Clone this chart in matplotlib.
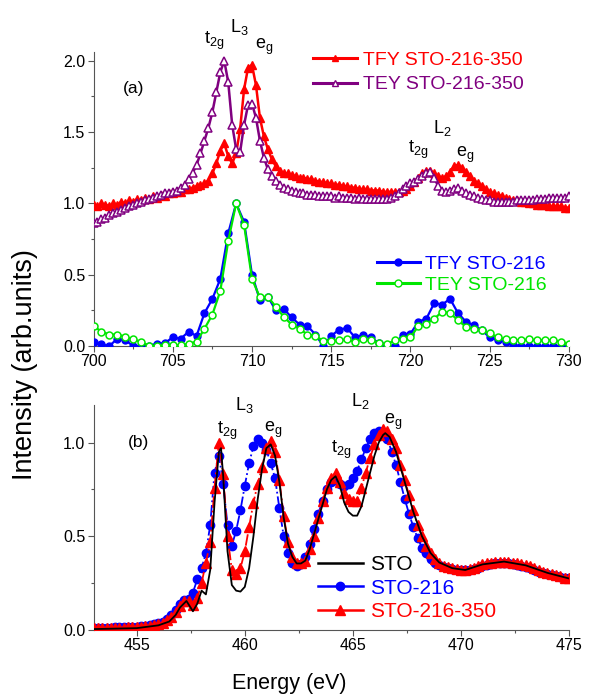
import numpy as np
import matplotlib
matplotlib.use("Agg")
import matplotlib.pyplot as plt
from matplotlib.ticker import MultipleLocator
from matplotlib.lines import Line2D

plt.rcParams['font.family'] = ['Liberation Sans', 'DejaVu Sans']
plt.rcParams['mathtext.fontset'] = 'custom'
plt.rcParams['mathtext.rm'] = 'Liberation Sans'
plt.rcParams['mathtext.it'] = 'Liberation Sans'

# ---------------- Panel (a): 700-730 eV ----------------
e_a_dense = np.arange(700.0, 730.001, 0.25)
tfy_216_350 = [
    0.99, 0.98, 1.00, 0.99, 0.98, 1.00, 0.99, 1.01, 1.00, 1.02,
    1.01, 1.03, 1.02, 1.04, 1.03, 1.05, 1.04, 1.06, 1.05, 1.07,
    1.07, 1.08, 1.08, 1.10, 1.10, 1.11, 1.12, 1.13, 1.14, 1.16,
    1.21, 1.28, 1.37, 1.42, 1.33, 1.28, 1.35, 1.52, 1.80, 1.95,
    1.97, 1.83, 1.60, 1.47, 1.38, 1.31, 1.26, 1.23, 1.21, 1.21,
    1.20, 1.19, 1.18, 1.18, 1.17, 1.17, 1.16, 1.15, 1.15, 1.14,
    1.14, 1.13, 1.13, 1.12, 1.12, 1.11, 1.11, 1.10, 1.10, 1.10,
    1.09, 1.09, 1.09, 1.08, 1.08, 1.08, 1.08, 1.08, 1.09, 1.10,
    1.12, 1.15, 1.18, 1.21, 1.23, 1.23, 1.21, 1.19, 1.18, 1.19,
    1.22, 1.26, 1.27, 1.25, 1.22, 1.19, 1.16, 1.14, 1.12, 1.10,
    1.08, 1.07, 1.06, 1.05, 1.04, 1.03, 1.02, 1.02, 1.01, 1.01,
    1.00, 1.00, 0.99, 0.99, 0.99, 0.98, 0.98, 0.98, 0.98, 0.97,
    0.97]
tey_216_350 = [
    0.86, 0.87, 0.89, 0.90, 0.92, 0.93, 0.94, 0.95, 0.97, 0.98,
    0.99, 1.00, 1.01, 1.02, 1.03, 1.04, 1.05, 1.06, 1.07, 1.07,
    1.08, 1.09, 1.11, 1.13, 1.17, 1.21, 1.27, 1.35, 1.44, 1.53,
    1.64, 1.78, 1.92, 2.00, 1.85, 1.55, 1.38, 1.36, 1.55, 1.69,
    1.70, 1.60, 1.44, 1.32, 1.24, 1.19, 1.16, 1.13, 1.11, 1.10,
    1.09, 1.08, 1.07, 1.07, 1.06, 1.06, 1.06, 1.05, 1.05, 1.05,
    1.05, 1.04, 1.05, 1.04, 1.04, 1.04, 1.03, 1.04, 1.03, 1.03,
    1.03, 1.03, 1.03, 1.03, 1.03, 1.04, 1.05, 1.07, 1.10, 1.12,
    1.14, 1.15, 1.17, 1.19, 1.21, 1.22, 1.18, 1.12, 1.09, 1.08,
    1.09, 1.10, 1.11, 1.09, 1.07, 1.06, 1.05, 1.04, 1.03, 1.02,
    1.02, 1.01, 1.01, 1.01, 1.01, 1.01, 1.01, 1.02, 1.02, 1.02,
    1.02, 1.02, 1.03, 1.03, 1.03, 1.04, 1.04, 1.04, 1.04, 1.04,
    1.05]

e_a_sparse = np.arange(700.0, 730.001, 0.5)
tfy_216 = [
    0.025, 0.01, 0.0, 0.05, 0.04, 0.0, 0.0, 0.0, 0.015, 0.02,
    0.06, 0.05, 0.10, 0.07, 0.23, 0.33, 0.47, 0.79, 1.00, 0.87,
    0.50, 0.32, 0.345, 0.25, 0.26, 0.20, 0.15, 0.14, 0.08, 0.0,
    0.07, 0.115, 0.125, 0.06, 0.075, 0.06, 0.02, 0.0, 0.0, 0.08,
    0.085, 0.17, 0.19, 0.30, 0.29, 0.33, 0.23, 0.17, 0.145, 0.11,
    0.06, 0.04, 0.03, 0.005, 0.0, 0.0, 0.0, 0.0, 0.0, 0.0,
    0.0]
tey_216 = [
    0.14, 0.10, 0.08, 0.08, 0.065, 0.045, 0.03, 0.0, 0.0, 0.005,
    0.005, 0.005, 0.015, 0.03, 0.12, 0.22, 0.385, 0.735, 1.00, 0.85,
    0.47, 0.34, 0.345, 0.275, 0.205, 0.15, 0.12, 0.08, 0.07, 0.035,
    0.035, 0.04, 0.045, 0.03, 0.045, 0.04, 0.02, 0.01, 0.04, 0.05,
    0.06, 0.14, 0.155, 0.19, 0.24, 0.23, 0.18, 0.134, 0.12, 0.11,
    0.09, 0.06, 0.045, 0.04, 0.04, 0.045, 0.04, 0.04, 0.04, 0.03,
    0.01]

# ---------------- Panel (b): 453-475 eV ----------------
e_b = np.arange(453.0, 475.001, 0.2)
sto_216_350 = [
    0.010, 0.010, 0.010, 0.011, 0.011, 0.012, 0.012, 0.013, 0.014, 0.015,
    0.016, 0.018, 0.020, 0.023, 0.027, 0.032, 0.040, 0.052, 0.070, 0.095,
    0.13, 0.155, 0.155, 0.135, 0.17, 0.25, 0.36, 0.47, 0.76, 1.00,
    0.83, 0.50, 0.32, 0.30, 0.33, 0.42, 0.55, 0.68, 0.78, 0.87,
    0.97, 1.01, 0.95, 0.80, 0.61, 0.47, 0.39, 0.355, 0.355, 0.37,
    0.43, 0.50, 0.60, 0.69, 0.76, 0.81, 0.84, 0.79, 0.73, 0.70,
    0.69, 0.69, 0.76, 0.84, 0.92, 0.99, 1.04, 1.07, 1.06, 1.02,
    0.97, 0.88, 0.80, 0.72, 0.64, 0.56, 0.50, 0.45, 0.41, 0.38,
    0.36, 0.34, 0.335, 0.33, 0.325, 0.32, 0.32, 0.325, 0.33, 0.34,
    0.35, 0.355, 0.36, 0.365, 0.365, 0.365, 0.365, 0.36, 0.355, 0.35,
    0.345, 0.34, 0.33, 0.32, 0.31, 0.305, 0.30, 0.295, 0.29, 0.28,
    0.275]
sto_216 = [
    0.012, 0.012, 0.012, 0.013, 0.013, 0.014, 0.014, 0.015, 0.016, 0.017,
    0.018, 0.020, 0.022, 0.026, 0.030, 0.036, 0.045, 0.058, 0.078, 0.105,
    0.14, 0.16, 0.165, 0.20, 0.27, 0.33, 0.41, 0.56, 0.84, 0.93,
    0.78, 0.56, 0.45, 0.53, 0.64, 0.77, 0.89, 0.98, 1.02, 1.00,
    0.96, 0.89, 0.81, 0.65, 0.50, 0.41, 0.36, 0.34, 0.35, 0.39,
    0.46, 0.54, 0.62, 0.69, 0.75, 0.79, 0.80, 0.78, 0.77, 0.78,
    0.81, 0.85, 0.91, 0.97, 1.02, 1.05, 1.06, 1.05, 1.02, 0.95,
    0.88, 0.79, 0.70, 0.62, 0.55, 0.49, 0.44, 0.41, 0.38, 0.36,
    0.345, 0.335, 0.33, 0.325, 0.32, 0.32, 0.32, 0.32, 0.325, 0.33,
    0.34, 0.345, 0.35, 0.355, 0.355, 0.355, 0.355, 0.35, 0.345, 0.34,
    0.335, 0.33, 0.32, 0.31, 0.305, 0.30, 0.295, 0.29, 0.285, 0.28,
    0.275]
e_sto = [453.0, 455.0, 456.0, 456.5, 456.8, 457.0, 457.3, 457.6, 457.8, 458.0,
         458.2, 458.4, 458.6, 458.8, 458.9, 459.0, 459.2, 459.4, 459.6, 459.8,
         460.0, 460.2, 460.4, 460.6, 460.8, 461.0, 461.2, 461.4, 461.6, 461.8,
         462.0, 462.2, 462.4, 462.6, 462.8, 463.0, 463.4, 463.8, 464.0, 464.2,
         464.4, 464.6, 464.8, 465.0, 465.2, 465.4, 465.6, 465.8, 466.0, 466.2,
         466.4, 466.5, 466.7, 467.0, 467.4, 467.8, 468.2, 468.6, 469.0, 469.6,
         470.2, 471.0, 472.0, 473.0, 474.0, 475.0]
sto = [0.005, 0.01, 0.025, 0.045, 0.08, 0.12, 0.155, 0.10, 0.14, 0.21,
       0.19, 0.32, 0.68, 0.95, 0.97, 0.82, 0.42, 0.24, 0.21, 0.205,
       0.23, 0.33, 0.50, 0.70, 0.86, 0.97, 0.99, 0.93, 0.79, 0.60,
       0.46, 0.39, 0.355, 0.355, 0.37, 0.43, 0.59, 0.75, 0.80, 0.82,
       0.77, 0.68, 0.63, 0.61, 0.61, 0.66, 0.75, 0.84, 0.93, 1.00,
       1.04, 1.05, 1.03, 0.95, 0.79, 0.63, 0.50, 0.41, 0.36, 0.33,
       0.32, 0.35, 0.365, 0.345, 0.305, 0.275]

RED = '#FF0000'
PURPLE = '#800080'
BLUE = '#0000FF'
GREEN = '#00E600'

fig = plt.figure(figsize=(5.92, 6.96), dpi=100)
axa = fig.add_axes([0.158, 0.503, 0.803, 0.422])
axb = fig.add_axes([0.158, 0.0948, 0.803, 0.3233])

for ax in (axa, axb):
    for s in ('top', 'right'):
        ax.spines[s].set_visible(False)
    ax.spines['left'].set_color('#555555')
    ax.spines['bottom'].set_color('#555555')
    ax.tick_params(which='major', direction='out', length=4, width=0.8,
                   labelsize=11.5, colors='#555555', labelcolor='black', pad=2)
    ax.tick_params(which='minor', direction='out', length=2.5, width=0.8, colors='#555555')

# Panel (a)
axa.plot(e_a_dense, tfy_216_350, color=RED, lw=1.8, marker='^', ms=5.5,
         mfc=RED, mec=RED, zorder=3)
axa.plot(e_a_dense, tey_216_350, color=PURPLE, lw=1.8, marker='^', ms=5.5,
         mfc='white', mec=PURPLE, mew=1.1, zorder=4)
axa.plot(e_a_sparse, tfy_216, color=BLUE, lw=1.6, marker='o', ms=5,
         mfc=BLUE, mec=BLUE, zorder=3)
axa.plot(e_a_sparse, tey_216, color=GREEN, lw=1.6, marker='o', ms=5,
         mfc='white', mec=GREEN, mew=1.1, zorder=4)
axa.set_xlim(700, 730)
axa.set_ylim(0, 2.06)
axa.xaxis.set_major_locator(MultipleLocator(5))
axa.xaxis.set_minor_locator(MultipleLocator(2.5))
axa.yaxis.set_major_locator(MultipleLocator(0.5))
axa.yaxis.set_minor_locator(MultipleLocator(0.25))

hl1 = Line2D([], [], color=RED, lw=2.2, marker='^', ms=5, mfc=RED, mec=RED)
hl2 = Line2D([], [], color=PURPLE, lw=2.2, marker='^', ms=5, mfc='white', mec=PURPLE)
leg1 = axa.legend([hl1, hl2], ['TFY STO-216-350', 'TEY STO-216-350'], loc='upper left',
                  bbox_to_anchor=(0.4616, 1.003), frameon=False, fontsize=14,
                  handlelength=2.27, handletextpad=0.3, labelspacing=0.35,
                  borderaxespad=0, borderpad=0)
for t, c in zip(leg1.get_texts(), [RED, PURPLE]):
    t.set_color(c)
axa.add_artist(leg1)
hl3 = Line2D([], [], color=BLUE, lw=2.2, marker='o', ms=5, mfc=BLUE, mec=BLUE)
hl4 = Line2D([], [], color=GREEN, lw=2.2, marker='o', ms=5, mfc='white', mec=GREEN)
leg2 = axa.legend([hl3, hl4], ['TFY STO-216', 'TEY STO-216'], loc='upper left',
                  bbox_to_anchor=(0.596, 0.308), frameon=False, fontsize=14,
                  handlelength=2.2, handletextpad=0.3, labelspacing=0.18,
                  borderaxespad=0, borderpad=0)
for t, c in zip(leg2.get_texts(), [BLUE, GREEN]):
    t.set_color(c)

fs_lab = 13
axa.text(0.085, 0.875, '(a)', transform=axa.transAxes, fontsize=12.5, ha='center', va='center')
axa.annotate(r'$\mathregular{t_{2g}}$', xy=(707.6, 2.14), ha='center', va='center', fontsize=fs_lab, annotation_clip=False)
axa.annotate(r'$\mathregular{L_{3}}$', xy=(709.2, 2.24), ha='center', va='center', fontsize=fs_lab, annotation_clip=False)
axa.annotate(r'$\mathregular{e_{g}}$', xy=(710.75, 2.10), ha='center', va='center', fontsize=fs_lab, annotation_clip=False)
axa.annotate(r'$\mathregular{t_{2g}}$', xy=(720.5, 1.375), ha='center', va='center', fontsize=fs_lab)
axa.annotate(r'$\mathregular{L_{2}}$', xy=(722.0, 1.53), ha='center', va='center', fontsize=fs_lab)
axa.annotate(r'$\mathregular{e_{g}}$', xy=(723.45, 1.34), ha='center', va='center', fontsize=fs_lab)

# Panel (b)
axb.plot(e_sto, sto, color='black', lw=1.3, zorder=5)
axb.plot(e_b, sto_216, color=BLUE, lw=1.3, ls='-.', marker='o', ms=6,
         mfc=BLUE, mec=BLUE, zorder=3)
axb.plot(e_b, sto_216_350, color=RED, lw=1.3, ls='-.', marker='^', ms=6.5,
         mfc=RED, mec=RED, zorder=4)
axb.set_xlim(453, 475)
axb.set_ylim(0, 1.2)
axb.xaxis.set_major_locator(MultipleLocator(5))
axb.xaxis.set_minor_locator(MultipleLocator(2.5))
axb.yaxis.set_major_locator(MultipleLocator(0.5))
axb.yaxis.set_minor_locator(MultipleLocator(0.25))

h1 = Line2D([], [], color='black', lw=1.8)
h2 = Line2D([], [], color=BLUE, lw=1.8, marker='o', ms=6)
h3 = Line2D([], [], color=RED, lw=1.8, marker='^', ms=6.5)
leg3 = axb.legend([h1, h2, h3], ['STO', 'STO-216', 'STO-216-350'], loc='upper left',
                  bbox_to_anchor=(0.472, 0.333), frameon=False, fontsize=15,
                  handlelength=2.16, handletextpad=0.33, labelspacing=0.22,
                  borderaxespad=0, borderpad=0)
for t, c in zip(leg3.get_texts(), ['black', BLUE, RED]):
    t.set_color(c)

axb.text(0.095, 0.835, '(b)', transform=axb.transAxes, fontsize=12.5, ha='center', va='center')
axb.annotate(r'$\mathregular{L_{3}}$', xy=(460.0, 1.20), ha='center', va='center', fontsize=fs_lab, annotation_clip=False)
axb.annotate(r'$\mathregular{t_{2g}}$', xy=(459.2, 1.06), ha='center', va='center', fontsize=fs_lab)
axb.annotate(r'$\mathregular{e_{g}}$', xy=(461.3, 1.065), ha='center', va='center', fontsize=fs_lab)
axb.annotate(r'$\mathregular{L_{2}}$', xy=(465.35, 1.22), ha='center', va='center', fontsize=fs_lab, annotation_clip=False)
axb.annotate(r'$\mathregular{e_{g}}$', xy=(466.85, 1.11), ha='center', va='center', fontsize=fs_lab)
axb.annotate(r'$\mathregular{t_{2g}}$', xy=(464.45, 0.96), ha='center', va='center', fontsize=fs_lab)

fig.text(0.042, 0.4756, 'Intensity (arb.units)', rotation=90, ha='center', va='center', fontsize=19.5)
fig.text(0.488, 0.018, 'Energy (eV)', ha='center', va='center', fontsize=15.5)

fig.savefig('out.png', dpi=100)
